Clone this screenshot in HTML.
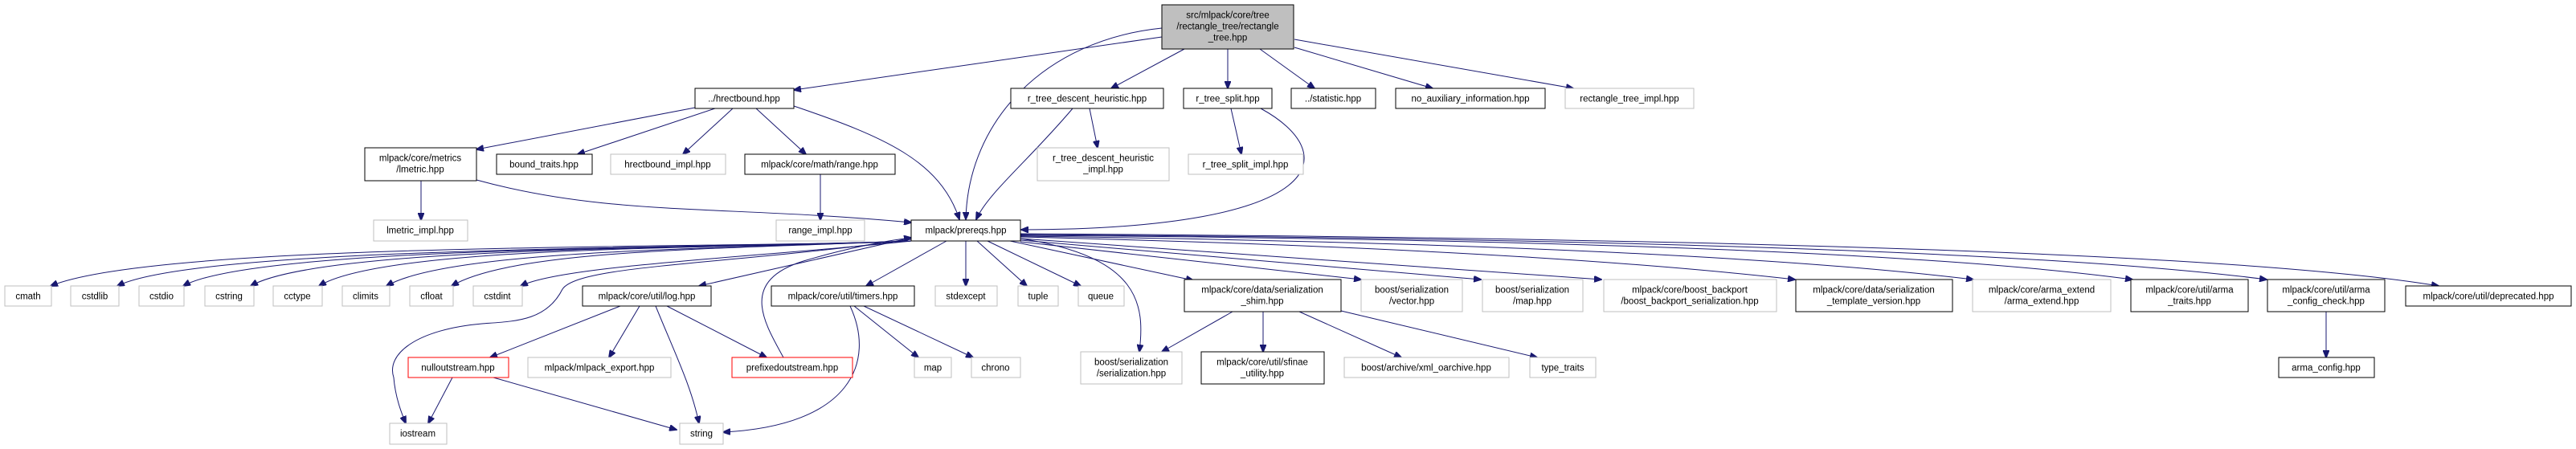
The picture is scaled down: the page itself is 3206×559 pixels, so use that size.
<!DOCTYPE html>
<html><head><meta charset="utf-8"><style>
html,body{margin:0;padding:0;background:#fff;}
svg{display:block;}
text{font-family:"Liberation Sans",sans-serif;font-size:11.5px;fill:#000;text-anchor:middle;}
.b{fill:#fff;stroke:#000;stroke-width:1;}
.g{fill:#fff;stroke:#bfbfbf;stroke-width:1;}
.r{fill:#fff;stroke:#ff0000;stroke-width:1;}
.e{fill:none;stroke:#191970;stroke-width:1;marker-end:url(#a);}
</style></head><body>
<svg width="3206" height="559" viewBox="0 0 3206 559" xmlns="http://www.w3.org/2000/svg">
<defs><marker id="a" markerWidth="10" markerHeight="8" refX="9" refY="4" orient="auto" markerUnits="userSpaceOnUse"><path d="M0,0 L10,4 L0,8 z" fill="#191970" stroke="#191970"/></marker></defs>

<path class="e" d="M1446,46 L988,112"/>
<path class="e" d="M1446,35 C1300,50 1205,150 1202,273"/>
<path class="e" d="M1474,61 L1383,110"/>
<path class="e" d="M1528,61 L1528,110"/>
<path class="e" d="M1568,61 L1636,110"/>
<path class="e" d="M1611,59 L1783,110"/>
<path class="e" d="M1611,49 L1958,110"/>
<path class="e" d="M865,134 L593,186"/>
<path class="e" d="M890,135 L719,192"/>
<path class="e" d="M912,135 L850,192"/>
<path class="e" d="M941,135 L1003,192"/>
<path class="e" d="M988,132 C1100,170 1170,200 1194,273"/>
<path class="e" d="M524,225 L524,274"/>
<path class="e" d="M593,224 C760,270 900,255 1134,277"/>
<path class="e" d="M1021,217 L1021,274"/>
<path class="e" d="M1356,135 L1366,184"/>
<path class="e" d="M1335,135 C1280,200 1230,240 1215,273"/>
<path class="e" d="M1532,135 L1545,192"/>
<path class="e" d="M1569,135 C1670,190 1660,285 1271,286"/>
<path class="e" d="M1134,300 C900,310 200,300 63,356"/>
<path class="e" d="M1134,300 C900,310 250,305 146,356"/>
<path class="e" d="M1134,300 C900,310 320,305 228,356"/>
<path class="e" d="M1134,300 C900,310 400,305 312,356"/>
<path class="e" d="M1134,300 C900,310 480,305 397,356"/>
<path class="e" d="M1134,300 C900,310 560,310 481,356"/>
<path class="e" d="M1134,300 C900,310 640,310 562,356"/>
<path class="e" d="M1134,300 C950,320 700,330 648,356"/>
<path class="e" d="M1134,298 C900,330 720,330 700,360 C680,400 640,400 600,403 C520,410 480,440 490,470 C492,495 500,515 505,527"/>
<path class="e" d="M1134,296 L870,356"/>
<path class="e" d="M975,445 C950,400 920,350 1000,325 C1050,310 1100,300 1134,296"/>
<path class="e" d="M1178,300 L1078,356"/>
<path class="e" d="M1202,300 L1202,356"/>
<path class="e" d="M1216,300 L1278,356"/>
<path class="e" d="M1229,300 L1345,356"/>
<path class="e" d="M1257,300 L1485,349"/>
<path class="e" d="M1270,297 C1420,320 1425,380 1418,438"/>
<path class="e" d="M1270,301 L1694,348"/>
<path class="e" d="M1270,299 L1843,348"/>
<path class="e" d="M1270,297 L1993,348"/>
<path class="e" d="M1270,295 Q1900,310 2234,348"/>
<path class="e" d="M1270,294 Q2100,305 2456,348"/>
<path class="e" d="M1270,293 Q2300,300 2654,348"/>
<path class="e" d="M1270,292 Q2450,300 2821,348"/>
<path class="e" d="M1270,291 Q2700,300 3035,356"/>
<path class="e" d="M772,381 L610,445"/>
<path class="e" d="M796,381 L758,445"/>
<path class="e" d="M816,381 C840,440 860,480 870,527"/>
<path class="e" d="M830,381 L954,445"/>
<path class="e" d="M1063,381 L1143,445"/>
<path class="e" d="M1075,381 L1211,445"/>
<path class="e" d="M1058,381 C1090,450 1060,530 900,538"/>
<path class="e" d="M563,470 L533,527"/>
<path class="e" d="M614,470 L842,535"/>
<path class="e" d="M1534,388 L1446,438"/>
<path class="e" d="M1572,388 L1572,438"/>
<path class="e" d="M1617,388 L1744,445"/>
<path class="e" d="M1669,387 L1913,445"/>
<path class="e" d="M2895,388 L2895,445"/>

<rect x="1446" y="6" width="164" height="55" fill="#bfbfbf" stroke="#000"/>
<text x="1528" y="22.5">src/mlpack/core/tree</text><text x="1528" y="36.5">/rectangle_tree/rectangle</text><text x="1528" y="50.5">_tree.hpp</text>

<rect class="b" x="865" y="110" width="123" height="25"/><text x="926" y="126.5">../hrectbound.hpp</text>
<rect class="b" x="1258" y="110" width="190" height="25"/><text x="1353" y="126.5">r_tree_descent_heuristic.hpp</text>
<rect class="b" x="1473" y="110" width="110" height="25"/><text x="1528" y="126.5">r_tree_split.hpp</text>
<rect class="b" x="1607" y="110" width="105" height="25"/><text x="1659" y="126.5">../statistic.hpp</text>
<rect class="b" x="1737" y="110" width="186" height="25"/><text x="1830" y="126.5">no_auxiliary_information.hpp</text>
<rect class="g" x="1948" y="110" width="160" height="25"/><text x="2028" y="126.5">rectangle_tree_impl.hpp</text>

<rect class="b" x="454" y="184" width="139" height="41"/><text x="523" y="200.5">mlpack/core/metrics</text><text x="523" y="214.5">/lmetric.hpp</text>
<rect class="b" x="618" y="192" width="119" height="25"/><text x="677" y="208.5">bound_traits.hpp</text>
<rect class="g" x="760" y="192" width="143" height="25"/><text x="831" y="208.5">hrectbound_impl.hpp</text>
<rect class="b" x="927" y="192" width="187" height="25"/><text x="1020" y="208.5">mlpack/core/math/range.hpp</text>
<rect class="g" x="1291" y="184" width="164" height="41"/><text x="1373" y="200.5">r_tree_descent_heuristic</text><text x="1373" y="214.5">_impl.hpp</text>
<rect class="g" x="1479" y="192" width="143" height="25"/><text x="1550" y="208.5">r_tree_split_impl.hpp</text>

<rect class="g" x="465" y="274" width="117" height="26"/><text x="523" y="290.5">lmetric_impl.hpp</text>
<rect class="g" x="966" y="274" width="110" height="26"/><text x="1021" y="290.5">range_impl.hpp</text>
<rect class="b" x="1134" y="274" width="136" height="26"/><text x="1202" y="290.5">mlpack/prereqs.hpp</text>

<rect class="g" x="6" y="356" width="58" height="25"/><text x="35" y="372.5">cmath</text>
<rect class="g" x="88" y="356" width="60" height="25"/><text x="118" y="372.5">cstdlib</text>
<rect class="g" x="173" y="356" width="56" height="25"/><text x="201" y="372.5">cstdio</text>
<rect class="g" x="255" y="356" width="61" height="25"/><text x="285" y="372.5">cstring</text>
<rect class="g" x="340" y="356" width="61" height="25"/><text x="370" y="372.5">cctype</text>
<rect class="g" x="426" y="356" width="59" height="25"/><text x="455" y="372.5">climits</text>
<rect class="g" x="510" y="356" width="54" height="25"/><text x="537" y="372.5">cfloat</text>
<rect class="g" x="589" y="356" width="61" height="25"/><text x="619" y="372.5">cstdint</text>
<rect class="b" x="725" y="356" width="160" height="25"/><text x="805" y="372.5">mlpack/core/util/log.hpp</text>
<rect class="b" x="960" y="356" width="178" height="25"/><text x="1049" y="372.5">mlpack/core/util/timers.hpp</text>
<rect class="g" x="1164" y="356" width="77" height="25"/><text x="1202" y="372.5">stdexcept</text>
<rect class="g" x="1267" y="356" width="50" height="25"/><text x="1292" y="372.5">tuple</text>
<rect class="g" x="1342" y="356" width="57" height="25"/><text x="1370" y="372.5">queue</text>
<rect class="b" x="2994" y="356" width="206" height="25"/><text x="3097" y="372.5">mlpack/core/util/deprecated.hpp</text>

<rect class="b" x="1474" y="348" width="195" height="40"/><text x="1571" y="364.5">mlpack/core/data/serialization</text><text x="1571" y="378.5">_shim.hpp</text>
<rect class="g" x="1694" y="348" width="126" height="40"/><text x="1757" y="364.5">boost/serialization</text><text x="1757" y="378.5">/vector.hpp</text>
<rect class="g" x="1845" y="348" width="125" height="40"/><text x="1907" y="364.5">boost/serialization</text><text x="1907" y="378.5">/map.hpp</text>
<rect class="g" x="1996" y="348" width="215" height="40"/><text x="2103" y="364.5">mlpack/core/boost_backport</text><text x="2103" y="378.5">/boost_backport_serialization.hpp</text>
<rect class="b" x="2235" y="348" width="195" height="40"/><text x="2332" y="364.5">mlpack/core/data/serialization</text><text x="2332" y="378.5">_template_version.hpp</text>
<rect class="g" x="2455" y="348" width="172" height="40"/><text x="2541" y="364.5">mlpack/core/arma_extend</text><text x="2541" y="378.5">/arma_extend.hpp</text>
<rect class="b" x="2652" y="348" width="146" height="40"/><text x="2725" y="364.5">mlpack/core/util/arma</text><text x="2725" y="378.5">_traits.hpp</text>
<rect class="b" x="2822" y="348" width="146" height="40"/><text x="2895" y="364.5">mlpack/core/util/arma</text><text x="2895" y="378.5">_config_check.hpp</text>

<rect class="r" x="508" y="445" width="125" height="25"/><text x="570" y="461.5">nulloutstream.hpp</text>
<rect class="g" x="657" y="445" width="178" height="25"/><text x="746" y="461.5">mlpack/mlpack_export.hpp</text>
<rect class="r" x="911" y="445" width="150" height="25"/><text x="986" y="461.5">prefixedoutstream.hpp</text>
<rect class="g" x="1138" y="445" width="46" height="25"/><text x="1161" y="461.5">map</text>
<rect class="g" x="1209" y="445" width="61" height="25"/><text x="1239" y="461.5">chrono</text>
<rect class="g" x="1345" y="438" width="126" height="40"/><text x="1408" y="454.5">boost/serialization</text><text x="1408" y="468.5">/serialization.hpp</text>
<rect class="b" x="1495" y="438" width="153" height="40"/><text x="1571" y="454.5">mlpack/core/util/sfinae</text><text x="1571" y="468.5">_utility.hpp</text>
<rect class="g" x="1673" y="445" width="205" height="25"/><text x="1775" y="461.5">boost/archive/xml_oarchive.hpp</text>
<rect class="g" x="1904" y="445" width="82" height="25"/><text x="1945" y="461.5">type_traits</text>
<rect class="b" x="2836" y="445" width="119" height="25"/><text x="2895" y="461.5">arma_config.hpp</text>

<rect class="g" x="485" y="527" width="71" height="26"/><text x="520" y="543.5">iostream</text>
<rect class="g" x="846" y="527" width="54" height="26"/><text x="873" y="543.5">string</text>
</svg>
</body></html>
